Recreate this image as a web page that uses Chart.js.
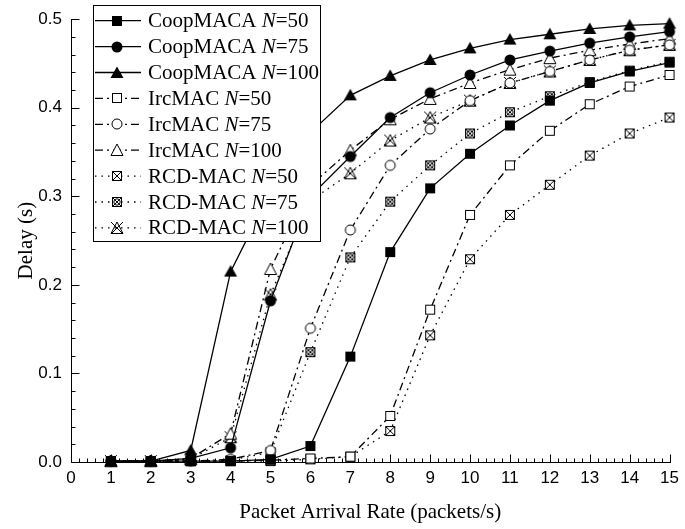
<!DOCTYPE html>
<html>
<head>
<meta charset="utf-8">
<script src="https://cdn.jsdelivr.net/npm/chart.js@4.4.0/dist/chart.umd.min.js"></script>
<style>
html, body { margin: 0; padding: 0; background: #fff; }
</style>
</head>
<body>
<canvas id="delayChart" width="685" height="529"></canvas>
<script>
// packet arrival rate (packets/s)
var rates = [1, 2, 3, 4, 5, 6, 7, 8, 9, 10, 11, 12, 13, 14, 15];

// delay (s)
var coop50  = [0.001, 0.001, 0.001, 0.001, 0.003, 0.018, 0.119, 0.237, 0.309, 0.348, 0.380, 0.408, 0.428, 0.441, 0.451];
var coop75  = [0.001, 0.001, 0.004, 0.016, 0.182, 0.300, 0.345, 0.389, 0.417, 0.437, 0.454, 0.464, 0.473, 0.480, 0.486];
var coop100 = [0.001, 0.001, 0.013, 0.215, 0.305, 0.372, 0.414, 0.436, 0.454, 0.467, 0.477, 0.483, 0.489, 0.493, 0.495];
var irc50   = [0.001, 0.001, 0.001, 0.001, 0.002, 0.004, 0.006, 0.052, 0.172, 0.279, 0.335, 0.374, 0.404, 0.424, 0.437];
var irc75   = [0.001, 0.001, 0.001, 0.003, 0.013, 0.151, 0.262, 0.335, 0.376, 0.408, 0.428, 0.441, 0.454, 0.465, 0.471];
var irc100  = [0.001, 0.001, 0.004, 0.032, 0.218, 0.312, 0.352, 0.387, 0.410, 0.428, 0.443, 0.456, 0.465, 0.472, 0.478];
var rcd50   = [0.001, 0.001, 0.001, 0.001, 0.001, 0.003, 0.006, 0.035, 0.143, 0.229, 0.279, 0.313, 0.346, 0.371, 0.389];
var rcd75   = [0.001, 0.001, 0.001, 0.002, 0.011, 0.124, 0.231, 0.294, 0.335, 0.371, 0.395, 0.413, 0.429, 0.442, 0.452];
var rcd100  = [0.001, 0.001, 0.003, 0.028, 0.189, 0.295, 0.326, 0.363, 0.389, 0.408, 0.428, 0.441, 0.454, 0.465, 0.471];

var xTicks = [0, 1, 2, 3, 4, 5, 6, 7, 8, 9, 10, 11, 12, 13, 14, 15];
var yTicks = [0.0, 0.1, 0.2, 0.3, 0.4, 0.5];

var serifFont = '"Liberation Serif", "Times New Roman", serif';
var sansFont = '"Liberation Sans", Arial, sans-serif';

// little canvases used as point markers
function makeMarker(kind) {
	var c = document.createElement('canvas');
	c.width = 16; c.height = 16;
	var g = c.getContext('2d');
	g.lineWidth = 1;
	g.strokeStyle = '#000';
	g.fillStyle = '#000';
	if (kind == 'sqF') {
		g.fillRect(3, 3, 10, 10);
	} else if (kind == 'cirF') {
		g.beginPath(); g.arc(8, 8, 5.5, 0, Math.PI * 2); g.fill();
	} else if (kind == 'triF') {
		g.beginPath(); g.moveTo(8, 1.5); g.lineTo(14.5, 13); g.lineTo(1.5, 13); g.closePath(); g.fill();
	} else if (kind == 'sqO') {
		g.fillStyle = '#fff'; g.fillRect(3.5, 3.5, 9, 9); g.strokeRect(3.5, 3.5, 9, 9);
	} else if (kind == 'cirO') {
		g.fillStyle = '#fff';
		g.beginPath(); g.arc(8, 8, 5, 0, Math.PI * 2); g.fill(); g.stroke();
	} else if (kind == 'triO') {
		g.fillStyle = '#fff';
		g.beginPath(); g.moveTo(8, 2); g.lineTo(14, 13.5); g.lineTo(2, 13.5); g.closePath(); g.fill(); g.stroke();
	} else if (kind == 'sqX' || kind == 'sqXO') {
		g.fillStyle = '#fff'; g.fillRect(3.5, 3.5, 9, 9); g.strokeRect(3.5, 3.5, 9, 9);
		g.beginPath(); g.moveTo(3.5, 3.5); g.lineTo(12.5, 12.5); g.moveTo(12.5, 3.5); g.lineTo(3.5, 12.5); g.stroke();
		if (kind == 'sqXO') {
			g.beginPath(); g.arc(8, 8, 3.2, 0, Math.PI * 2); g.stroke();
		}
	} else if (kind == 'triX') {
		g.beginPath(); g.moveTo(8, 2); g.lineTo(14, 13.5); g.lineTo(2, 13.5); g.closePath(); g.stroke();
		g.beginPath(); g.moveTo(2, 2); g.lineTo(14, 14); g.moveTo(14, 2); g.lineTo(2, 14); g.stroke();
	}
	return c;
}

var solid = [];
var dashDot = [8, 4, 2, 4];
var dotted = [1.5, 5];

function series(name, n, values, marker, dash) {
	return {
		label: name + ' N=' + n,
		name: name,
		n: n,
		data: values,
		borderColor: '#000',
		backgroundColor: '#000',
		borderWidth: 1.3,
		borderDash: dash,
		pointStyle: makeMarker(marker),
		pointRadius: 6,
		tension: 0,
		clip: false
	};
}

var legendPlugin = {
	id: 'boxLegend',
	afterDatasetsDraw: function(chart) {
		var ctx = chart.ctx;
		var sets = chart.data.datasets;
		ctx.save();
		ctx.fillStyle = '#fff';
		ctx.fillRect(93, 5, 227, 236);
		ctx.strokeStyle = '#000';
		ctx.lineWidth = 1;
		ctx.strokeRect(93.5, 5.5, 227, 236);
		sets.forEach(function(ds, i) {
			var y = 20.7 + i * 25.9;
			ctx.beginPath();
			ctx.setLineDash(ds.borderDash);
			ctx.lineWidth = 1.3;
			ctx.moveTo(95, y);
			ctx.lineTo(141, y);
			ctx.stroke();
			ctx.setLineDash([]);
			ctx.drawImage(ds.pointStyle, 117 - 8, Math.round(y) - 8);
			ctx.fillStyle = '#000';
			ctx.textBaseline = 'middle';
			var x = 148;
			var parts = [[ds.name + ' ', ''], ['N', 'italic '], ['=' + ds.n, '']];
			parts.forEach(function(p) {
				ctx.font = p[1] + '21px ' + serifFont;
				ctx.fillText(p[0], x, y + 1);
				x += ctx.measureText(p[0]).width;
			});
		});
		ctx.restore();
	}
};

var axisPlugin = {
	id: 'axisTicks',
	beforeDatasetsDraw: function(chart) {
		var ctx = chart.ctx;
		var xs = chart.scales.x, ys = chart.scales.y, a = chart.chartArea;
		var left = Math.round(a.left) + 0.5, bottom = Math.round(a.bottom) + 0.5;
		ctx.save();
		ctx.strokeStyle = '#000';
		ctx.lineWidth = 1;
		ctx.beginPath();
		ctx.moveTo(left, Math.round(a.top));
		ctx.lineTo(left, bottom);
		ctx.lineTo(Math.round(a.right) + 1, bottom);
		for (var i = 0; i <= 75; i++) {
			var px = Math.round(xs.getPixelForValue(i / 5)) + 0.5;
			var len = (i % 5 == 0) ? 8 : 4;
			ctx.moveTo(px, bottom);
			ctx.lineTo(px, bottom - len);
		}
		for (var j = 0; j <= 25; j++) {
			var py = Math.round(ys.getPixelForValue(j * 0.02)) + 0.5;
			var len2 = (j % 5 == 0) ? 8 : 4;
			ctx.moveTo(left, py);
			ctx.lineTo(left + len2, py);
		}
		ctx.stroke();
		ctx.restore();
	}
};

var chart = new Chart(document.getElementById('delayChart'), {
	type: 'line',
	data: {
		labels: rates,
		datasets: [
			series('CoopMACA', 50, coop50, 'sqF', solid),
			series('CoopMACA', 75, coop75, 'cirF', solid),
			series('CoopMACA', 100, coop100, 'triF', solid),
			series('IrcMAC', 50, irc50, 'sqO', dashDot),
			series('IrcMAC', 75, irc75, 'cirO', dashDot),
			series('IrcMAC', 100, irc100, 'triO', dashDot),
			series('RCD-MAC', 50, rcd50, 'sqX', dotted),
			series('RCD-MAC', 75, rcd75, 'sqXO', dotted),
			series('RCD-MAC', 100, rcd100, 'triX', dotted)
		]
	},
	options: {
		responsive: false,
		animation: false,
		devicePixelRatio: 1,
		layout: { padding: { top: 14, right: 10, bottom: 0, left: 0 } },
		plugins: {
			legend: { display: false },
			tooltip: { enabled: false }
		},
		scales: {
			x: {
				type: 'linear',
				min: 0,
				max: 15,
				afterFit: function(scale) { scale.height = 67; },
				afterBuildTicks: function(scale) {
					scale.ticks = xTicks.map(function(v) { return { value: v }; });
				},
				grid: { display: false, drawTicks: false },
				border: { display: false },
				ticks: {
					padding: 6,
					color: '#000',
					font: { family: sansFont, size: 17 },
					maxRotation: 0,
					autoSkip: false
				},
				title: {
					display: true,
					text: 'Packet Arrival Rate (packets/s)',
					color: '#000',
					font: { family: serifFont, size: 21 },
					padding: { top: 0, bottom: 4 }
				}
			},
			y: {
				min: 0,
				max: 0.5,
				afterFit: function(scale) { scale.width = 71; },
				afterBuildTicks: function(scale) {
					scale.ticks = yTicks.map(function(v) { return { value: v }; });
				},
				grid: { display: false, drawTicks: false },
				border: { display: false },
				ticks: {
					padding: 9,
					color: '#000',
					font: { family: sansFont, size: 17 },
					callback: function(v) { return v.toFixed(1); }
				},
				title: {
					display: true,
					text: 'Delay (s)',
					color: '#000',
					font: { family: serifFont, size: 21 },
					padding: { top: 14, bottom: 0 }
				}
			}
		}
	},
	plugins: [axisPlugin, legendPlugin]
});
</script>
</body>
</html>
